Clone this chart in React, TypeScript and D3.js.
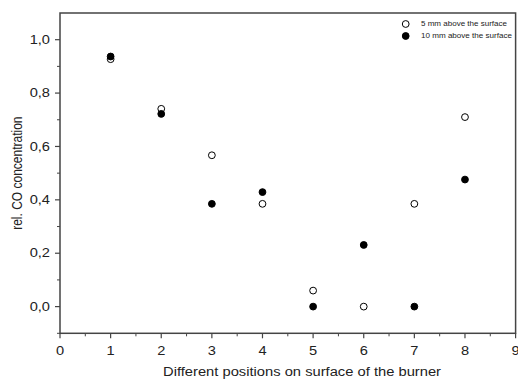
import React, { useEffect, useRef } from "react";
import * as d3 from "d3";

const positions = [1, 2, 3, 4, 5, 6, 7, 8];
const above5mm = [0.927, 0.741, 0.567, 0.385, 0.06, 0.0, 0.385, 0.71];
const above10mm = [0.937, 0.722, 0.385, 0.429, 0.0, 0.231, 0.0, 0.476];
const seriesNames = ["5 mm above the surface", "10 mm above the surface"];
const xTicks = [0, 1, 2, 3, 4, 5, 6, 7, 8, 9];
const yTicks = [0, 0.2, 0.4, 0.6, 0.8, 1.0];

const App: React.FC = () => {
  const svgRef = useRef<SVGSVGElement | null>(null);

  useEffect(() => {
    if (!svgRef.current) return;
    const svg = d3.select(svgRef.current);
    svg.selectAll("*").remove();

    const left = 60, right = 515.6, top = 13, bottom = 333.3;
    const x = d3.scaleLinear().domain([0, 9]).range([left, right]);
    const y = d3.scaleLinear().domain([-0.1, 1.1]).range([bottom, top]);
    const font = "Liberation Sans, Arial, sans-serif";
    const axisColor = "#444";
    const sx = 1.22; // the original text is a bit wider than tall

    svg.append("rect")
      .attr("x", left).attr("y", top)
      .attr("width", right - left).attr("height", bottom - top)
      .attr("fill", "none").attr("stroke", axisColor).attr("stroke-width", 1.5);

    const gx = svg.append("g");
    gx.selectAll(".minor")
      .data(d3.range(0.5, 9, 1))
      .enter().append("line")
      .attr("x1", (d) => x(d)).attr("x2", (d) => x(d))
      .attr("y1", bottom).attr("y2", bottom + 3)
      .attr("stroke", axisColor).attr("stroke-width", 1);
    gx.selectAll(".major")
      .data(xTicks)
      .enter().append("line")
      .attr("x1", (d) => x(d)).attr("x2", (d) => x(d))
      .attr("y1", bottom).attr("y2", bottom + 5)
      .attr("stroke", axisColor).attr("stroke-width", 1.2);
    gx.selectAll("text")
      .data(xTicks)
      .enter().append("text")
      .attr("transform", (d) => `translate(${x(d)},${bottom + 22}) scale(${sx},1)`)
      .attr("text-anchor", "middle")
      .style("font", `12px ${font}`)
      .attr("fill", "#222")
      .text((d) => String(d));

    const gy = svg.append("g");
    gy.selectAll(".minor")
      .data([-0.1, 0.1, 0.3, 0.5, 0.7, 0.9])
      .enter().append("line")
      .attr("x1", left - 3).attr("x2", left)
      .attr("y1", (d) => y(d)).attr("y2", (d) => y(d))
      .attr("stroke", axisColor).attr("stroke-width", 1);
    gy.selectAll(".major")
      .data(yTicks)
      .enter().append("line")
      .attr("x1", left - 5).attr("x2", left)
      .attr("y1", (d) => y(d)).attr("y2", (d) => y(d))
      .attr("stroke", axisColor).attr("stroke-width", 1.2);
    gy.selectAll("text")
      .data(yTicks)
      .enter().append("text")
      .attr("transform", (d) => `translate(${left - 10},${y(d)}) scale(${sx},1)`)
      .attr("dy", "0.35em")
      .attr("text-anchor", "end")
      .style("font", `12px ${font}`)
      .attr("fill", "#222")
      .text((d) => d3.format(".1f")(d).replace(".", ","));

    svg.append("text")
      .attr("x", 163).attr("y", 376)
      .attr("textLength", 278)
      .attr("lengthAdjust", "spacingAndGlyphs")
      .style("font", `12px ${font}`)
      .attr("fill", "#222")
      .text("Different positions on surface of the burner");

    svg.append("text")
      .attr("transform", `translate(22,${(top + bottom) / 2}) scale(${sx},1) rotate(-90)`)
      .attr("text-anchor", "middle")
      .style("font", `12px ${font}`)
      .attr("fill", "#222")
      .text("rel. CO concentration");

    const data = [
      { name: seriesNames[0], values: above5mm, fill: "#fff", len: 86 },
      { name: seriesNames[1], values: above10mm, fill: "#000", len: 91 },
    ];

    data.forEach((s) => {
      svg.append("g").selectAll("circle")
        .data(s.values)
        .enter().append("circle")
        .attr("cx", (_, i) => x(positions[i]))
        .attr("cy", (d) => y(d))
        .attr("r", 3.4)
        .attr("fill", s.fill)
        .attr("stroke", "#000")
        .attr("stroke-width", 1);
    });

    const legend = svg.append("g");
    data.forEach((s, i) => {
      const ly = 24 + i * 12;
      legend.append("circle")
        .attr("cx", 405.7).attr("cy", ly).attr("r", 3.4)
        .attr("fill", s.fill).attr("stroke", "#000").attr("stroke-width", 1);
      legend.append("text")
        .attr("x", 421).attr("y", ly)
        .attr("dy", "0.35em")
        .attr("textLength", s.len)
        .attr("lengthAdjust", "spacingAndGlyphs")
        .style("font", `7px ${font}`)
        .attr("fill", "#222")
        .text(s.name);
    });
  }, []);

  return (
    <svg
      ref={svgRef}
      width={518}
      height={383}
      style={{ position: "absolute", left: 0, top: 0, background: "#fff" }}
    />
  );
};

export default App;
